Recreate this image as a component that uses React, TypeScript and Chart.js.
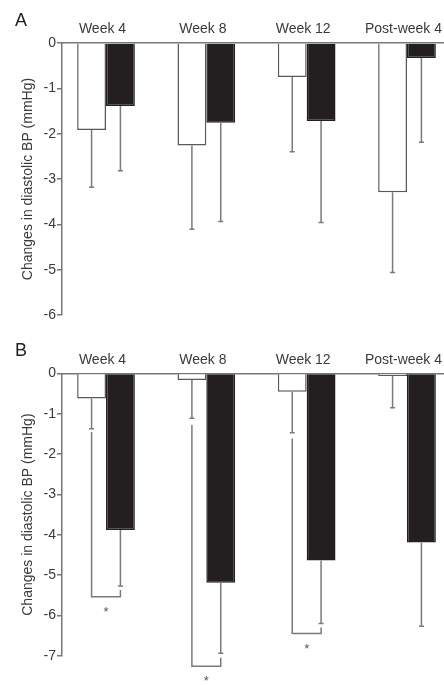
import { useEffect, useRef } from 'react';
import { Chart, registerables } from 'chart.js';

Chart.register(...registerables);

// ---------- data ----------
const categories = ['Week 4', 'Week 8', 'Week 12', 'Post-week 4'];
const yTitle = 'Changes in diastolic BP (mmHg)';

// Panel A
const aWhite = [-1.92, -2.26, -0.75, -3.29];
const aWhiteErr = [-3.18, -4.11, -2.4, -5.06];
const aBlack = [-1.39, -1.76, -1.72, -0.33];
const aBlackErr = [-2.82, -3.94, -3.96, -2.19];
const aYMin = -6;

// Panel B
const bWhite = [-0.62, -0.16, -0.45, -0.06];
const bWhiteErr = [-1.37, -1.11, -1.47, -0.85];
const bBlack = [-3.88, -5.19, -4.64, -4.19];
const bBlackErr = [-5.27, -6.94, -6.2, -6.27];
const bYMin = -7;

// Significance brackets in panel B (categories 0..2)
const bracketFrom = [-1.45, -1.28, -1.61];
const bracketLevel = [-5.54, -7.26, -6.45];
const bracketTo = [-5.37, -7.05, -6.3];
const bracketMark = ['*', '*', '*'];

// ---------- styles ----------
const FONT = "'Liberation Sans', Arial, Helvetica, sans-serif";
const TEXT = '#3a3a3a';
const AXIS = '#777777';
const BAR_EDGE = '#5a5a5a';
const BLACK = '#231f20';
const ERR = '#7a7a7a';
const X_MIN = -0.4385;
const X_MAX = 3.3688;

type PanelCfg = {
  white: number[];
  whiteErr: number[];
  black: number[];
  blackErr: number[];
  yMin: number;
  letter: string;
  xAxisHeight: number;
  padBottom: number;
  brackets?: { from: number[]; level: number[]; to: number[]; mark: string[] };
};

function makeChart(canvas: HTMLCanvasElement, cfg: PanelCfg) {
  const overlay = {
    id: 'overlay',
    afterDraw(chart: any) {
      const ctx = chart.ctx as CanvasRenderingContext2D;
      const ys = chart.scales.y;
      const xs = chart.scales.x;
      ctx.save();
      ctx.strokeStyle = ERR;
      ctx.lineWidth = 1.5;
      [cfg.whiteErr, cfg.blackErr].forEach((errs, d) => {
        const meta = chart.getDatasetMeta(d);
        meta.data.forEach((el: any, i: number) => {
          const x0 = el.x;
          const y1 = ys.getPixelForValue(errs[i]);
          ctx.beginPath();
          ctx.moveTo(x0, el.y);
          ctx.lineTo(x0, y1);
          ctx.moveTo(x0 - 2.5, y1);
          ctx.lineTo(x0 + 2.5, y1);
          ctx.stroke();
        });
      });
      if (cfg.brackets) {
        const mw = chart.getDatasetMeta(0);
        const mb = chart.getDatasetMeta(1);
        ctx.fillStyle = '#555';
        ctx.font = `13px ${FONT}`;
        ctx.textAlign = 'center';
        ctx.textBaseline = 'alphabetic';
        cfg.brackets.level.forEach((lv, i) => {
          const xl = mw.data[i].x;
          const xr = mb.data[i].x;
          const y0 = ys.getPixelForValue(cfg.brackets!.from[i]);
          const yl = ys.getPixelForValue(lv);
          const yr = ys.getPixelForValue(cfg.brackets!.to[i]);
          ctx.beginPath();
          ctx.moveTo(xl, y0);
          ctx.lineTo(xl, yl);
          ctx.lineTo(xr, yl);
          ctx.lineTo(xr, yr);
          ctx.stroke();
          ctx.fillText(cfg.brackets!.mark[i], xs.getPixelForValue(i), yl + 19);
        });
      }
      ctx.fillStyle = '#222';
      ctx.font = `18px ${FONT}`;
      ctx.textAlign = 'left';
      ctx.textBaseline = 'alphabetic';
      ctx.fillText(cfg.letter, 15, 26);
      ctx.restore();
    },
  };

  return new Chart(canvas, {
    type: 'bar',
    data: {
      datasets: [
        {
          data: cfg.white.map((v, i) => ({ x: i, y: v })),
          backgroundColor: '#ffffff',
          borderColor: BAR_EDGE,
          borderWidth: 1.5,
        },
        {
          data: cfg.black.map((v, i) => ({ x: i, y: v })),
          backgroundColor: BLACK,
          borderColor: BLACK,
          borderWidth: 1.5,
        },
      ],
    } as any,
    options: {
      animation: false,
      responsive: false,
      events: [],
      layout: { padding: { left: 0, right: 0, top: 0, bottom: cfg.padBottom } },
      plugins: { legend: { display: false }, tooltip: { enabled: false } },
      datasets: { bar: { categoryPercentage: 0.575, barPercentage: 1 } },
      scales: {
        x: {
          type: 'linear',
          position: 'top',
          min: X_MIN,
          max: X_MAX,
          offset: false,
          bounds: 'data',
          grid: { display: false, drawTicks: false },
          border: { display: true, color: AXIS, width: 1.5 },
          afterBuildTicks: (s: any) => {
            s.ticks = categories.map((_, i) => ({ value: i }));
          },
          ticks: {
            callback: (v: any) => categories[v] ?? '',
            font: { family: FONT, size: 14 },
            color: TEXT,
            padding: 5,
            labelOffset: -3.5,
            maxRotation: 0,
            autoSkip: false,
          },
          afterFit: (s: any) => {
            s.height = cfg.xAxisHeight;
            s.paddingLeft = 0;
            s.paddingRight = 0;
          },
        },
        y: {
          type: 'linear',
          min: cfg.yMin,
          max: 0,
          ticks: {
            stepSize: 1,
            font: { family: FONT, size: 14 },
            color: TEXT,
            padding: 1,
          },
          grid: { drawOnChartArea: false, tickLength: 5, color: AXIS, lineWidth: 1.5 },
          border: { display: true, color: AXIS, width: 1.5 },
          title: {
            display: true,
            text: yTitle,
            font: { family: FONT, size: 14 },
            color: TEXT,
            padding: { top: 20, bottom: 0 },
          },
          afterFit: (s: any) => {
            s.width = 62;
            s.paddingTop = 0;
            s.paddingBottom = 0;
          },
        },
      },
    } as any,
    plugins: [overlay],
  });
}

function Panel(props: { cfg: PanelCfg; top: number; height: number }) {
  const ref = useRef<HTMLCanvasElement | null>(null);
  useEffect(() => {
    if (!ref.current) return;
    const ch = makeChart(ref.current, props.cfg);
    return () => ch.destroy();
  }, []);
  return (
    <canvas
      ref={ref}
      width={444}
      height={props.height}
      style={{ position: 'absolute', left: 0, top: props.top, width: 444, height: props.height }}
    />
  );
}

const panelA: PanelCfg = {
  white: aWhite,
  whiteErr: aWhiteErr,
  black: aBlack,
  blackErr: aBlackErr,
  yMin: aYMin,
  letter: 'A',
  xAxisHeight: 43,
  padBottom: 15,
};

const panelB: PanelCfg = {
  white: bWhite,
  whiteErr: bWhiteErr,
  black: bBlack,
  blackErr: bBlackErr,
  yMin: bYMin,
  letter: 'B',
  xAxisHeight: 43.5,
  padBottom: 29.3,
  brackets: { from: bracketFrom, level: bracketLevel, to: bracketTo, mark: bracketMark },
};

export default function App() {
  return (
    <div style={{ position: 'fixed', left: 0, top: 0, width: 444, height: 685, background: '#fff', overflow: 'hidden' }}>
      <Panel cfg={panelA} top={0} height={330} />
      <Panel cfg={panelB} top={330} height={355} />
    </div>
  );
}
